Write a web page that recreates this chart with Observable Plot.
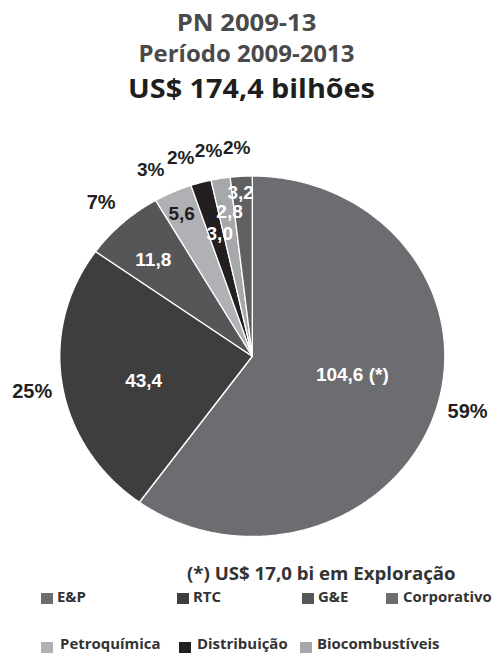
<!DOCTYPE html>
<html>
<head>
<meta charset="utf-8">
<script src="https://cdn.jsdelivr.net/npm/d3@7"></script>
<script src="https://cdn.jsdelivr.net/npm/@observablehq/plot@0.6"></script>
<style>
  html, body { margin: 0; padding: 0; background: #fff; }
  #page { position: relative; width: 493px; height: 656px; overflow: hidden; font-family: "Open Sans", sans-serif; font-weight: bold; }
  .t { position: absolute; white-space: nowrap; line-height: 1; }
  .c { left: 0; width: 493px; text-align: center; transform: scaleX(1.066); transform-origin: 50% 50%; }
  .l { transform-origin: 0 50%; }
  #chart { position: absolute; left: 0; top: 130px; }
  .sw { position: absolute; width: 12px; height: 11px; }
</style>
</head>
<body>
<div id="page">
  <div class="t c" style="top:10px;font-size:24px;color:#4a4a4a;">PN 2009-13</div>
  <div class="t c" style="top:43px;font-size:22.5px;color:#4a4a4a;">Período 2009-2013</div>
  <div class="t c" style="left:5px;top:74px;font-size:27px;color:#1e1e1e;">US$ 174,4 bilhões</div>
  <div id="chart"></div>
  <div class="t l" id="note" style="left:187px;top:564.5px;font-size:17.5px;color:#333;transform:scaleX(1.066);"></div>
  <div id="legend"></div>
</div>
<script>
// ---- data ----
const categories = ["E&P", "RTC", "G&E", "Petroquímica", "Distribuição", "Biocombustíveis", "Corporativo"];
const values = [104.6, 43.4, 11.8, 5.6, 3.0, 2.8, 3.2];
const percents = [59, 25, 7, 3, 2, 2, 2];
const valueLabels = ["104,6 (*)", "43,4", "11,8", "5,6", "3,0", "2,8", "3,2"];
const noteText = "(*) US$ 17,0 bi em Exploração";
const legendOrder = ["E&P", "RTC", "G&E", "Corporativo", "Petroquímica", "Distribuição", "Biocombustíveis"];

// ---- styles / layout ----
const colors = {
  "E&P": "#6c6d71",
  "RTC": "#3e3e3f",
  "G&E": "#565658",
  "Petroquímica": "#b0b1b4",
  "Distribuição": "#231f20",
  "Biocombustíveis": "#a7a8ab",
  "Corporativo": "#606063"
};
const legendColors = { ...colors, "Corporativo": "#6d6d70" };
const darkValueLabel = new Set(["Petroquímica"]);
const valueRadius = [0.53, 0.58, 0.74, 0.87, 0.70, 0.81, 0.91];
const valueAngleAdj = [-6.6, -4.1, -1.7, -0.6, 1.5, 1.1, -0.5];
const pctRadius = 1.16;
const pctAngleAdj = [-2.6, -0.4, -0.3, -2.7, -3.2, -1.8, -0.7];
const legendLayout = {
  "E&P": [41, 57, 0], "RTC": [177, 193, 0], "G&E": [302, 318, 0], "Corporativo": [386, 403, 0],
  "Petroquímica": [41, 60, 1], "Distribuição": [179, 197, 1], "Biocombustíveis": [300, 317, 1]
};
const rowSquareTop = [593, 642];
const rowTextTop = [589.5, 636.5];

// ---- geometry ----
const total = d3.sum(values);
let acc = 0;
const slices = categories.map((c, i) => {
  const a0 = acc / total * 2 * Math.PI;
  acc += values[i];
  const a1 = acc / total * 2 * Math.PI;
  return { c, i, a0, a1, mid: (a0 + a1) / 2 };
});
const pts = slices.flatMap(s => {
  const n = Math.max(2, Math.ceil((s.a1 - s.a0) / (Math.PI / 360)));
  const arr = [{ c: s.c, x: 0, y: 0 }];
  for (let k = 0; k <= n; k++) {
    const a = s.a0 + (s.a1 - s.a0) * k / n;
    arr.push({ c: s.c, x: Math.sin(a), y: Math.cos(a) });
  }
  return arr;
});
const rad = d => d * Math.PI / 180;
const vx = s => Math.sin(s.mid + rad(valueAngleAdj[s.i])) * valueRadius[s.i];
const vy = s => Math.cos(s.mid + rad(valueAngleAdj[s.i])) * valueRadius[s.i];
const px = s => Math.sin(s.mid + rad(pctAngleAdj[s.i])) * pctRadius;
const py = s => Math.cos(s.mid + rad(pctAngleAdj[s.i])) * pctRadius;

const labelFont = "'Liberation Sans', Arial, sans-serif";
const plot = Plot.plot({
  width: 493,
  height: 420,
  marginLeft: 59.3,
  marginRight: 48.7,
  marginTop: 45.5,
  marginBottom: 14,
  x: { domain: [-1, 1], axis: null },
  y: { domain: [-1, 1], axis: null },
  color: { domain: categories, range: categories.map(c => colors[c]) },
  style: { fontFamily: labelFont, background: "transparent" },
  marks: [
    Plot.line(pts, { x: "x", y: "y", z: "c", fill: "c", stroke: "white", strokeWidth: 1.3, curve: "linear-closed" }),
    Plot.text(slices.filter(s => !darkValueLabel.has(s.c)), { x: vx, y: vy, text: s => valueLabels[s.i], fill: "white", fontSize: 19, fontWeight: "bold" }),
    Plot.text(slices.filter(s => darkValueLabel.has(s.c)), { x: vx, y: vy, text: s => valueLabels[s.i], fill: "#231f20", fontSize: 19, fontWeight: "bold" }),
    Plot.text(slices.filter(s => percents[s.i] >= 5), { x: px, y: py, text: s => percents[s.i] + "%", fill: "#231f20", fontSize: 20, fontWeight: "bold" }),
    Plot.text(slices.filter(s => percents[s.i] < 5), { x: px, y: py, text: s => percents[s.i] + "%", fill: "#231f20", fontSize: 19, fontWeight: "bold" })
  ]
});
document.getElementById("chart").appendChild(plot);
document.getElementById("note").textContent = noteText;

const legend = document.getElementById("legend");
legendOrder.forEach(c => {
  const [sx, tx, row] = legendLayout[c];
  const sq = document.createElement("div");
  sq.className = "sw";
  sq.style.left = sx + "px";
  sq.style.top = rowSquareTop[row] + "px";
  sq.style.background = legendColors[c];
  legend.appendChild(sq);
  const t = document.createElement("div");
  t.className = "t l";
  t.style.left = tx + "px";
  t.style.top = rowTextTop[row] + "px";
  t.style.fontSize = "14.5px";
  t.style.transform = "scaleX(1.03)";
  t.style.color = "#333";
  t.textContent = c;
  legend.appendChild(t);
});
</script>
</body>
</html>
